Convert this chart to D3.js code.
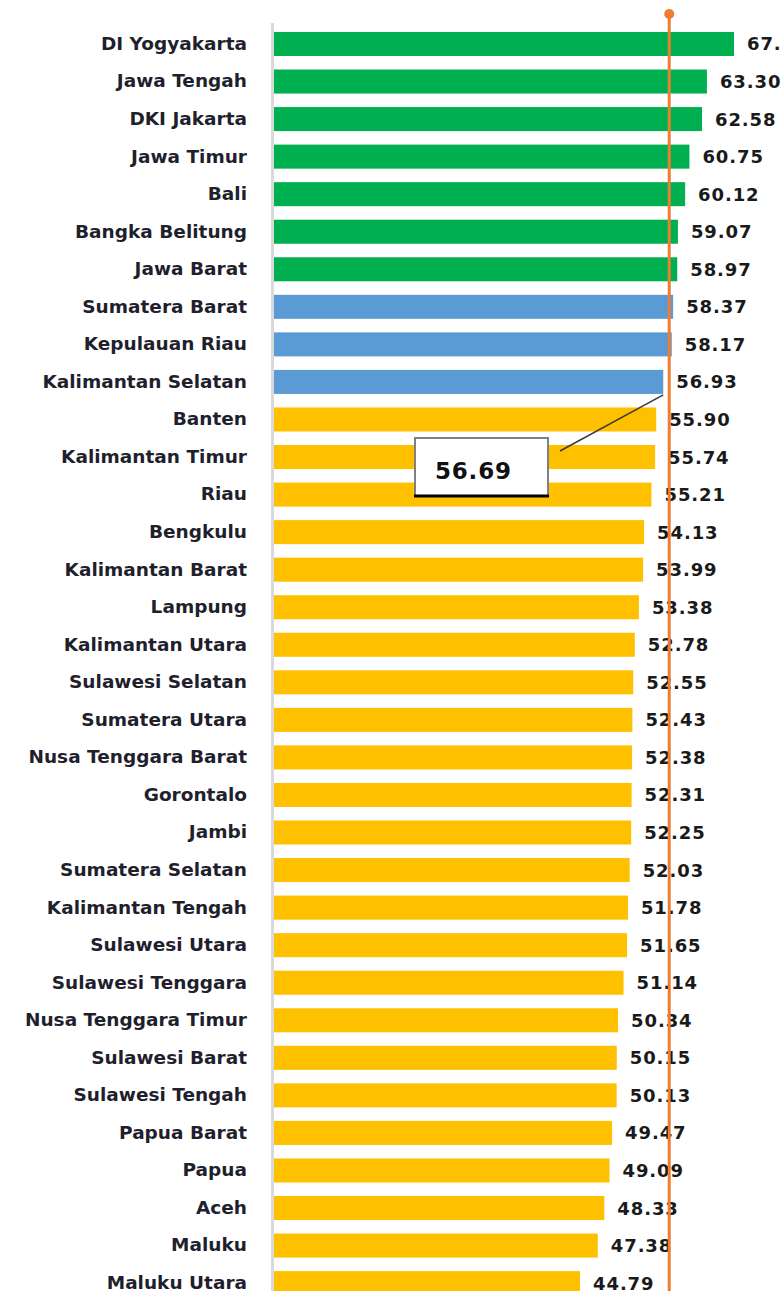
<!DOCTYPE html>
<html>
<head>
<meta charset="utf-8">
<script src="https://cdn.jsdelivr.net/npm/d3@7"></script>
<style>
  html, body { margin: 0; padding: 0; background: #fff; overflow: hidden; }
  svg { display: block; }
  .cat { font-family: "DejaVu Sans", sans-serif; font-weight: bold; font-size: 18.5px; fill: #1f1f2e; }
  .val { font-family: "DejaVu Sans", sans-serif; font-weight: bold; font-size: 18px; fill: #1a1a1a; letter-spacing: 0.9px; }
  .note { font-family: "DejaVu Sans", sans-serif; font-weight: bold; font-size: 23px; fill: #111; letter-spacing: 0.8px; }
</style>
</head>
<body>
<div id="chart"></div>
<script>
// provinces, top to bottom
const provinces = ["DI Yogyakarta", "Jawa Tengah", "DKI Jakarta", "Jawa Timur", "Bali",
  "Bangka Belitung", "Jawa Barat", "Sumatera Barat", "Kepulauan Riau", "Kalimantan Selatan",
  "Banten", "Kalimantan Timur", "Riau", "Bengkulu", "Kalimantan Barat", "Lampung",
  "Kalimantan Utara", "Sulawesi Selatan", "Sumatera Utara", "Nusa Tenggara Barat",
  "Gorontalo", "Jambi", "Sumatera Selatan", "Kalimantan Tengah", "Sulawesi Utara",
  "Sulawesi Tenggara", "Nusa Tenggara Timur", "Sulawesi Barat", "Sulawesi Tengah",
  "Papua Barat", "Papua", "Aceh", "Maluku", "Maluku Utara"];
const scores = [67.25, 63.30, 62.58, 60.75, 60.12, 59.07, 58.97, 58.37, 58.17, 56.93,
  55.90, 55.74, 55.21, 54.13, 53.99, 53.38, 52.78, 52.55, 52.43, 52.38,
  52.31, 52.25, 52.03, 51.78, 51.65, 51.14, 50.34, 50.15, 50.13, 49.47,
  49.09, 48.33, 47.38, 44.79];
const tiers = ["high", "high", "high", "high", "high", "high", "high", "mid", "mid", "mid",
  "low", "low", "low", "low", "low", "low", "low", "low", "low", "low",
  "low", "low", "low", "low", "low", "low", "low", "low", "low", "low",
  "low", "low", "low", "low"];
const nationalLabel = "56.69";
const markerAt = 57.8;   // where the orange marker sits in the picture

const WIDTH = 782;
const HEIGHT = 1291;
const TIER_COLORS = { high: "#00B050", mid: "#5B9BD5", low: "#FFC000" };

const data = provinces.map((p, i) => ({ name: p, value: scores[i], tier: tiers[i] }));

const xScale = d3.scaleLinear()
                 .domain([0, d3.max(scores)])
                 .range([273, 734]);
const yScale = d3.scaleBand()
                 .domain(provinces)
                 .range([25.2, 25.2 + provinces.length * 37.55])
                 .paddingInner(0.36)
                 .paddingOuter(0.18);

const svg = d3.select("#chart")
              .append("svg")
              .attr("width", WIDTH)
              .attr("height", HEIGHT);

svg.selectAll("rect.bar")
   .data(data)
   .enter()
   .append("rect")
   .attr("class", "bar")
   .attr("x", xScale(0))
   .attr("y", d => yScale(d.name))
   .attr("width", d => xScale(d.value) - xScale(0))
   .attr("height", yScale.bandwidth())
   .attr("fill", d => TIER_COLORS[d.tier]);

// category axis
const yAxis = d3.axisLeft(yScale).tickSize(0).tickPadding(26);
const gy = svg.append("g")
              .attr("transform", "translate(" + xScale(0) + ",0)")
              .call(yAxis);
gy.select(".domain").remove();
gy.selectAll("text").attr("class", "cat").attr("fill", null).attr("font-size", null).attr("font-family", null);

svg.append("line")
   .attr("x1", 272.5).attr("x2", 272.5)
   .attr("y1", 23).attr("y2", HEIGHT)
   .attr("stroke", "#d9d9d9")
   .attr("stroke-width", 3);

svg.selectAll("text.val")
   .data(data)
   .enter()
   .append("text")
   .attr("class", "val")
   .attr("x", d => xScale(d.value) + 13)
   .attr("y", d => yScale(d.name) + yScale.bandwidth() / 2)
   .attr("dy", "0.36em")
   .text(d => d.value.toFixed(2));

// national average marker
const mx = xScale(markerAt);
svg.append("line")
   .attr("x1", mx).attr("x2", mx)
   .attr("y1", 14).attr("y2", HEIGHT)
   .attr("stroke", "#ED7D31")
   .attr("stroke-width", 3);
svg.append("circle")
   .attr("cx", mx).attr("cy", 14).attr("r", 5)
   .attr("fill", "#ED7D31");

// callout
const last = data[9];
svg.append("line")
   .attr("x1", 560).attr("y1", 451)
   .attr("x2", xScale(last.value)).attr("y2", yScale(last.name) + yScale.bandwidth() + 1)
   .attr("stroke", "#3a3a3a")
   .attr("stroke-width", 1.5);
svg.append("rect")
   .attr("x", 415).attr("y", 438)
   .attr("width", 133).attr("height", 58)
   .attr("fill", "#fff")
   .attr("stroke", "#808080")
   .attr("stroke-width", 2);
svg.append("line")
   .attr("x1", 414).attr("x2", 549)
   .attr("y1", 496).attr("y2", 496)
   .attr("stroke", "#000")
   .attr("stroke-width", 3);
svg.append("text")
   .attr("class", "note")
   .attr("x", 435).attr("y", 479)
   .text(nationalLabel);
</script>
</body>
</html>
